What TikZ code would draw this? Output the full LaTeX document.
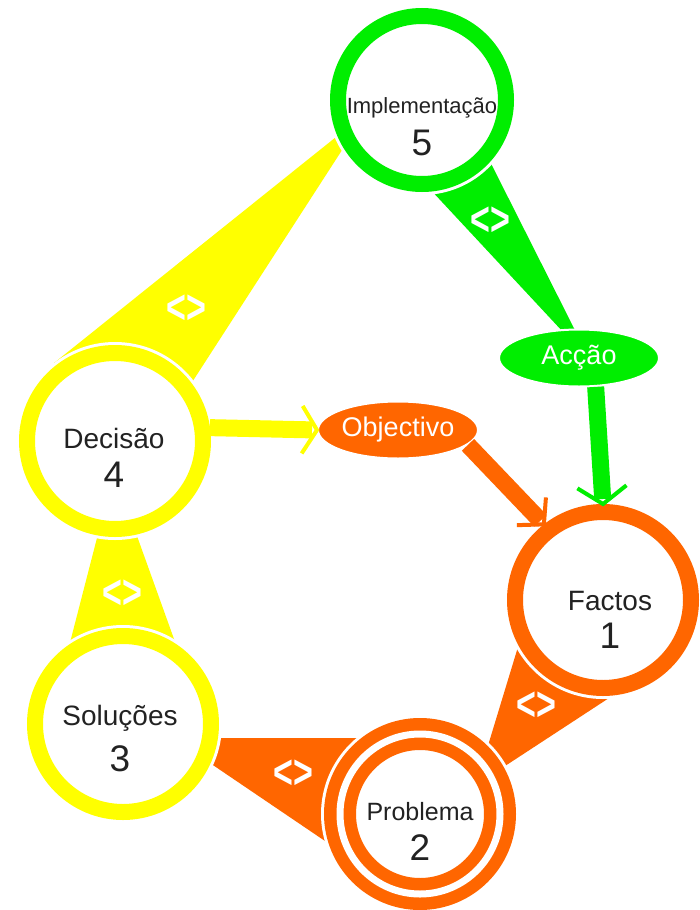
\documentclass[tikz,border=0pt]{standalone}
\usepackage{fontspec}
\setmainfont{Liberation Sans}
\usetikzlibrary{calc,shapes.geometric}
\definecolor{ylw}{HTML}{FFFF00}
\definecolor{grn}{HTML}{00EE00}
\definecolor{org}{HTML}{FF6600}
\definecolor{txt}{HTML}{222222}
\begin{document}
\begin{tikzpicture}[x=1pt,y=1pt,
  ringnode/.style 2 args={circle, draw=#1, line width=16pt, fill=white, inner sep=0pt, outer sep=8pt, minimum size=#2},
  oval/.style={ellipse, fill=#1, draw=white, line width=2pt, inner sep=0pt, minimum width=160pt, minimum height=57pt, text=white, font=\fontsize{27}{27}\selectfont},
  band/.style={draw=#1, line width=17pt, shorten >=5pt},
  chev/.style={draw=#1, line width=4pt},
  lbl/.style={text=txt, inner sep=0pt, anchor=base, font=\fontsize{28}{30}\selectfont},
  num/.style={text=txt, inner sep=0pt, anchor=base, font=\fontsize{37}{40}\selectfont},
  sym/.style={text=white, inner sep=0pt, font=\fontsize{34}{34}\selectfont\bfseries}
]
\fill[white] (0,0) rectangle (700,-910);
\useasboundingbox (0,0) rectangle (700,-910);

% centres
\coordinate (p1) at (603,-600);
\coordinate (p2) at (420,-814);
\coordinate (p3) at (123,-724);
\coordinate (p4) at (115,-441);
\coordinate (p5) at (422,-100);
\coordinate (pa) at (579,-358);
\coordinate (po) at (398,-430);

% tapered connectors
\fill[ylw] ($(p4)+(-61,78)$) -- ($(p5)+(-56,-13)$) -- ($(p4)+(52,20)$) -- (p4) -- cycle;
\fill[grn] ($(p5)+(-34,-44)$) -- ($(pa)+(12,-4)$) -- ($(p5)+(38,-2)$) -- cycle;
\fill[org] ($(p1)+(-75,-14)$) -- ($(p2)+(56,29)$) -- ($(p1)+(32,-81)$) -- cycle;
\fill[org] ($(p2)+(-20,76)$) -- ($(p3)+(50,-14)$) -- ($(p2)+(-64,-48)$) -- cycle;
\fill[ylw] ($(p3)+(-58,62)$) -- ($(p4)+(-1,-31)$) -- ($(p3)+(60,60)$) -- cycle;

% white halos
\fill[white] (p1) circle (99);
\fill[white] (p2) circle (99);
\fill[white] (p3) circle (99);
\fill[white] (p4) circle (99);
\fill[white] (p5) circle (95);

% circles
\node[ringnode={org}{176pt}] (c1) at (p1) {};
\node[circle, draw=org, double=white, double distance=7pt, line width=12.5pt, fill=white, inner sep=0pt, outer sep=16pt, minimum size=160pt] (c2) at (p2) {};
\node[ringnode={ylw}{176pt}] (c3) at (p3) {};
\node[ringnode={ylw}{176pt}] (c4) at (p4) {};
\node[ringnode={grn}{168pt}] (c5) at (p5) {};

% ovals
\node[oval=grn] (acc) at (pa) {Acção};
\node[oval=org] (obj) at (po) {Objectivo};

% arrows
\draw[band=ylw] (c4.8) -- (obj.west);
\draw[chev=ylw] ($(obj.west)!28pt!58:(c4.8)$) -- (obj.west) -- ($(obj.west)!28pt!-58:(c4.8)$);
\draw[band=org] (obj.-12) -- (c1.128);
\draw[chev=org] ($(c1.128)!27pt!48:(obj.-12)$) -- (c1.128) -- ($(c1.128)!27pt!-48:(obj.-12)$);
\draw[band=grn] (acc.-60) -- (c1.north);
\draw[chev=grn] ($(c1.north)!30pt!55:(acc.-60)$) -- (c1.north) -- ($(c1.north)!30pt!-55:(acc.-60)$);

% symbols on tapered connectors
\node[sym] (s1) at (490,-221) {\scalebox{1}[1.4]{<>}};
\node[sym] (s2) at (186,-309) {\scalebox{1}[1.4]{<>}};
\node[sym] (s3) at (536,-706) {\scalebox{1}[1.4]{<>}};
\node[sym] (s4) at (293,-774) {\scalebox{1}[1.4]{<>}};
\node[sym] (s5) at (122,-594) {\scalebox{1}[1.4]{<>}};

% texts
\node[lbl] (c1l) at ($(p1)+(7,-10)$) {Factos};
\node[num] (c1n) at ($(c1l.base)+(0,-38)$) {1};
\node[lbl, font=\fontsize{25}{27}\selectfont] (c2l) at ($(p2)+(0,-6)$) {Problema};
\node[num] (c2n) at ($(c2l.base)+(0,-40)$) {2};
\node[lbl] (c3l) at ($(p3)+(-3,-1)$) {Soluções};
\node[num] (c3n) at ($(c3l.base)+(0,-46)$) {3};
\node[lbl] (c4l) at ($(p4)+(-1,-7)$) {Decisão};
\node[num] (c4n) at ($(c4l.base)+(0,-39)$) {4};
\node[lbl, font=\fontsize{22}{24}\selectfont] (c5l) at ($(p5)+(0,-13)$) {Implementação};
\node[num] (c5n) at ($(c5l.base)+(0,-42)$) {5};
\end{tikzpicture}
\end{document}
